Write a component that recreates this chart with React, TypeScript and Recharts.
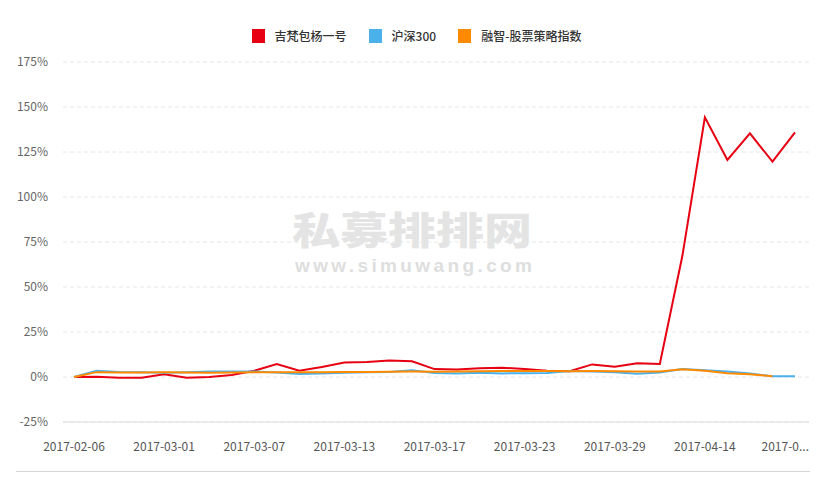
import React from 'react';
import { LineChart, Line, XAxis, YAxis, CartesianGrid, Legend } from 'recharts';

const dates = [
  '2017-02-06', '2017-02-10', '2017-02-17', '2017-02-24',
  '2017-03-01', '2017-03-02', '2017-03-03', '2017-03-06',
  '2017-03-07', '2017-03-08', '2017-03-09', '2017-03-10',
  '2017-03-13', '2017-03-14', '2017-03-15', '2017-03-16',
  '2017-03-17', '2017-03-20', '2017-03-21', '2017-03-22',
  '2017-03-23', '2017-03-24', '2017-03-27', '2017-03-28',
  '2017-03-29', '2017-03-30', '2017-03-31', '2017-04-07',
  '2017-04-14', '2017-04-21', '2017-04-28', '2017-05-05',
  '2017-05-12',
];

const fundReturns = [
  0, 0.2, -0.4, -0.4, 1.5, -0.4, 0, 1.1,
  3.5, 7.2, 3.5, 5.6, 8.1, 8.3, 9.2, 8.7,
  4.4, 4.2, 4.8, 5.2, 4.4, 3.5, 3.2, 7.0,
  5.7, 7.6, 7.2, 67.2, 144.3, 120.6, 135.4, 119.6,
  135.9,
];

const hs300Returns = [
  0, 3.5, 2.8, 2.6, 2.4, 2.6, 3.0, 3.1,
  3.1, 2.5, 1.6, 1.9, 2.4, 2.6, 2.8, 3.8,
  2.2, 2.0, 2.3, 2.0, 2.1, 2.2, 3.3, 3.0,
  2.6, 1.8, 2.5, 4.5, 3.8, 3.0, 2.0, 0.4,
  0.4,
];

const strategyIndexReturns: (number | null)[] = [
  0, 2.7, 2.5, 2.5, 2.6, 2.5, 2.4, 2.5,
  2.6, 2.6, 2.6, 2.7, 2.8, 2.8, 2.9, 3.0,
  2.9, 3.0, 3.2, 3.3, 3.4, 3.3, 3.2, 3.3,
  3.2, 3.0, 3.0, 4.3, 3.5, 2.1, 1.5, 0.4,
  null,
];

const yTicks = [-25, 0, 25, 50, 75, 100, 125, 150, 175];

const seriesNames = ['吉梵包杨一号', '沪深300', '融智-股票策略指数'];
const seriesColors = ['#e60012', '#4bb1ea', '#ff8a00'];

const watermarkTitle = '私募排排网';
const watermarkUrl = 'www.simuwang.com';

const data = dates.map((d, i) => ({
  date: d,
  fund: fundReturns[i],
  hs300: hs300Returns[i],
  strategy: strategyIndexReturns[i],
}));

const FONT = '"Noto Sans CJK SC", "Noto Sans", sans-serif';

const LegendContent = (props: any) => {
  const payload = props.payload || [];
  return (
    <div
      style={{
        display: 'flex',
        justifyContent: 'center',
        alignItems: 'center',
        fontFamily: FONT,
        fontSize: 12,
        fontWeight: 500,
        color: '#333',
        height: 16,
        lineHeight: '16px',
      }}
    >
      {payload.map((p: any, i: number) => (
        <div
          key={p.value}
          style={{ display: 'flex', alignItems: 'center', marginLeft: i ? 22 : 0 }}
        >
          <span
            style={{
              display: 'inline-block',
              width: 13,
              height: 14,
              background: p.color,
              marginRight: 10,
            }}
          />
          <span>{p.value}</span>
        </div>
      ))}
    </div>
  );
};

const XTick = (props: any) => {
  const { x, y, payload, index } = props;
  const isLast = index === dates.length - 1 || payload.value === dates[dates.length - 1];
  const label = isLast ? payload.value.slice(0, 6) + '...' : payload.value;
  return (
    <text
      x={isLast ? x + 14 : x}
      y={y}
      dy="0.71em"
      textAnchor={isLast ? 'end' : 'middle'}
      fill="#555"
      fontSize={12}
      fontFamily={FONT}
    >
      {label}
    </text>
  );
};

export default function App() {
  return (
    <div style={{ position: 'absolute', left: 0, top: 0, width: 833, height: 488, background: '#fff' }}>
      <svg
        width={833}
        height={488}
        style={{ position: 'absolute', left: 0, top: 0 }}
      >
        <text
          x={292}
          y={244}
          fontSize={38}
          fontWeight={900}
          fontFamily={FONT}
          fill="#e4e4e4"
          textLength={240}
          lengthAdjust="spacingAndGlyphs"
        >
          {watermarkTitle}
        </text>
        <text
          x={295}
          y={272}
          fontSize={19}
          fontWeight={700}
          fontFamily='"Liberation Sans", Arial, sans-serif'
          fill="#dedede"
          textLength={237}
          lengthAdjust="spacing"
        >
          {watermarkUrl}
        </text>
      </svg>
      <div style={{ position: 'absolute', left: 0, top: 0 }}>
        <LineChart
          width={833}
          height={488}
          data={data}
          margin={{ top: 62, right: 24, left: 0, bottom: 36 }}
        >
          <CartesianGrid vertical={false} stroke="#e6e6e6" strokeDasharray="4 3" />
          <XAxis
            dataKey="date"
            interval={3}
            tickLine={false}
            axisLine={{ stroke: '#dcdcdc' }}
            padding={{ left: 11, right: 14 }}
            tick={<XTick />}
            height={30}
            tickSize={0}
            tickMargin={20}
          />
          <YAxis
            domain={[-25, 175]}
            ticks={yTicks}
            tickFormatter={(v: number) => `${v}%`}
            axisLine={false}
            tickLine={false}
            width={63}
            tickSize={0}
            tickMargin={15}
            tick={{ fill: '#666', fontSize: 12, fontFamily: FONT }}
          />
          <Legend
            verticalAlign="middle"
            align="center"
            content={<LegendContent />}
            wrapperStyle={{ top: 28, left: 0, width: 833 }}
          />
          <Line
            type="linear"
            dataKey="fund"
            name={seriesNames[0]}
            stroke={seriesColors[0]}
            strokeWidth={2}
            dot={false}
            activeDot={false}
            isAnimationActive={false}
          />
          <Line
            type="linear"
            dataKey="hs300"
            name={seriesNames[1]}
            stroke={seriesColors[1]}
            strokeWidth={2}
            dot={false}
            activeDot={false}
            isAnimationActive={false}
          />
          <Line
            type="linear"
            dataKey="strategy"
            name={seriesNames[2]}
            stroke={seriesColors[2]}
            strokeWidth={2}
            dot={false}
            activeDot={false}
            isAnimationActive={false}
          />
        </LineChart>
      </div>
      <div
        style={{
          position: 'absolute',
          left: 16,
          top: 471,
          width: 794,
          height: 0,
          borderTop: '1px solid #d4d4d4',
        }}
      />
    </div>
  );
}
